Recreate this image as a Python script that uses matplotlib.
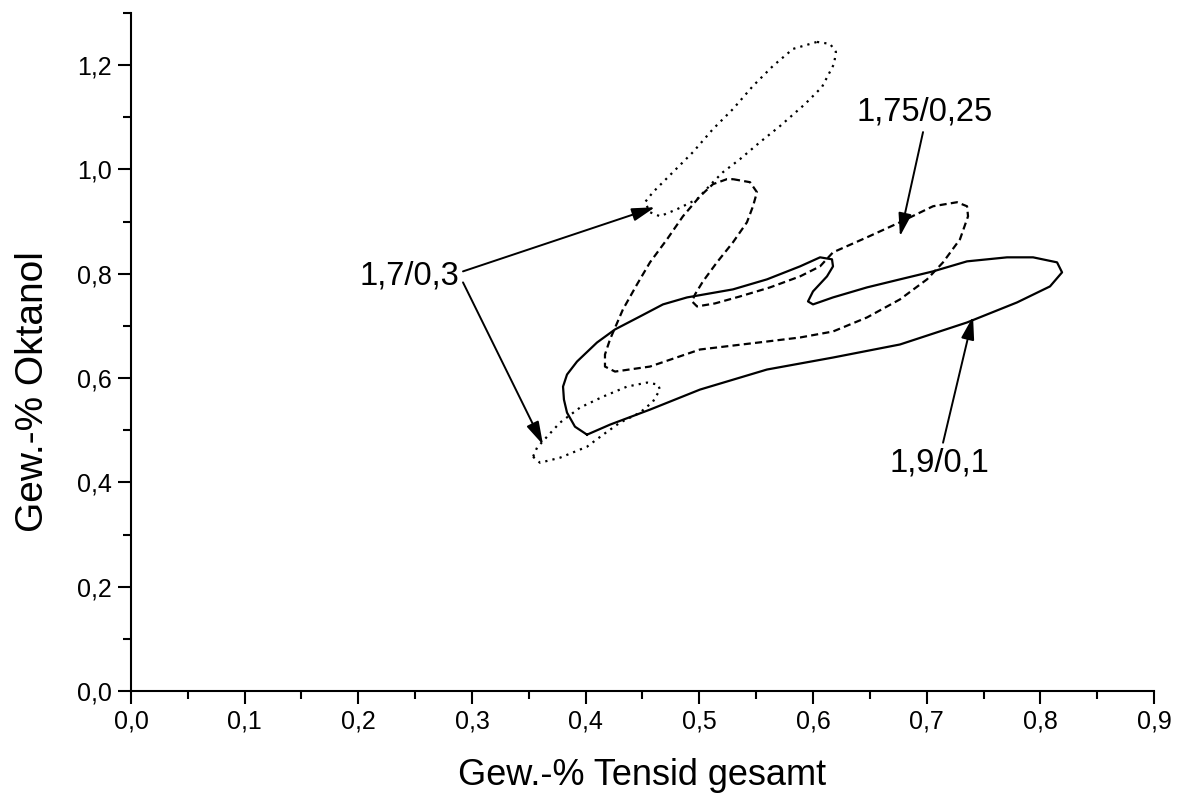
import matplotlib
matplotlib.use("Agg")
import matplotlib.pyplot as plt
from matplotlib.ticker import FuncFormatter, MultipleLocator

plt.rcParams['font.family'] = ['Liberation Sans', 'DejaVu Sans']

# Curve 1,9/0,1 (solid)
solid_x = [0.4012, 0.4214, 0.4566, 0.5006, 0.5595, 0.6176, 0.6765, 0.7355, 0.7795, 0.8085,
           0.8191, 0.8147, 0.7936, 0.7707, 0.7355, 0.7056, 0.6765, 0.6475, 0.6176, 0.6000,
           0.5956, 0.6000, 0.6123, 0.6176, 0.6167, 0.6062, 0.5886, 0.5595, 0.5296, 0.4892,
           0.4680, 0.4478, 0.4258, 0.4100, 0.3924, 0.3836, 0.3801, 0.3809, 0.3836, 0.3906, 0.4012]
solid_y = [0.4916, 0.5108, 0.5396, 0.5780, 0.6164, 0.6394, 0.6644, 0.7066, 0.7450, 0.7757,
           0.8026, 0.8218, 0.8314, 0.8314, 0.8237, 0.8045, 0.7892, 0.7738, 0.7546, 0.7412,
           0.7469, 0.7661, 0.7949, 0.8141, 0.8276, 0.8314, 0.8141, 0.7892, 0.7700, 0.7546,
           0.7412, 0.7181, 0.6932, 0.6682, 0.6317, 0.6068, 0.5837, 0.5588, 0.5338, 0.5069, 0.4916]

# Curve 1,75/0,25 (dashed)
dashed_x = [0.5296, 0.5446, 0.5507, 0.5472, 0.5419, 0.5296, 0.5155, 0.5032, 0.4962, 0.4936,
            0.4980, 0.5138, 0.5358, 0.5622, 0.5886, 0.6062, 0.6176, 0.6475, 0.6765, 0.7056,
            0.7267, 0.7355, 0.7364, 0.7293, 0.7144, 0.7003, 0.6765, 0.6475, 0.6176, 0.5886,
            0.5595, 0.5006, 0.4566, 0.4258, 0.4170, 0.4170, 0.4214, 0.4328, 0.4452, 0.4566,
            0.4716, 0.4856, 0.5006, 0.5120, 0.5243, 0.5296]
dashed_y = [0.9812, 0.9754, 0.9562, 0.9293, 0.8986, 0.8602, 0.8218, 0.7853, 0.7604, 0.7469,
            0.7373, 0.7431, 0.7565, 0.7738, 0.7949, 0.8141, 0.8410, 0.8698, 0.8986, 0.9293,
            0.9370, 0.9293, 0.9101, 0.8660, 0.8218, 0.7892, 0.7508, 0.7162, 0.6893, 0.6778,
            0.6701, 0.6548, 0.6221, 0.6125, 0.6221, 0.6452, 0.6740, 0.7316, 0.7796, 0.8218,
            0.8660, 0.9101, 0.9485, 0.9716, 0.9812, 0.9812]

# Curve 1,7/0,3 (dotted) - upper loop
dot_up_x = [0.6035, 0.6150, 0.6202, 0.6185, 0.6079, 0.5930, 0.5710, 0.5534, 0.5358, 0.5208,
            0.5120, 0.4980, 0.4804, 0.4654, 0.4566, 0.4522, 0.4592, 0.4768, 0.4944, 0.5120,
            0.5296, 0.5472, 0.5648, 0.5824, 0.6035]
dot_up_y = [1.2442, 1.2404, 1.2250, 1.2020, 1.1578, 1.1252, 1.0830, 1.0522, 1.0196, 0.9946,
            0.9754, 0.9428, 0.9236, 0.9101, 0.9178, 0.9370, 0.9562, 0.9946, 1.0330, 1.0772,
            1.1156, 1.1598, 1.1982, 1.2308, 1.2442]
# Curve 1,7/0,3 (dotted) - lower loop
dot_lo_x = [0.3537, 0.3598, 0.3774, 0.4012, 0.4153, 0.4302, 0.4478, 0.4592, 0.4654, 0.4636,
            0.4540, 0.4364, 0.4153, 0.3950, 0.3774, 0.3660, 0.3572, 0.3537]
dot_lo_y = [0.4493, 0.4378, 0.4474, 0.4685, 0.4916, 0.5146, 0.5338, 0.5549, 0.5780, 0.5876,
            0.5914, 0.5837, 0.5645, 0.5434, 0.5146, 0.4877, 0.4666, 0.4493]

# Labels: text, text position, list of (arrow start, arrow tip)
labels = ["1,7/0,3", "1,75/0,25", "1,9/0,1"]
label_pos = [(0.2446, 0.795), (0.6985, 1.1098), (0.7109, 0.4378)]
arrows = [[((0.2921, 0.8045), (0.4610, 0.9274)), ((0.2921, 0.7834), (0.3625, 0.4724))],
          [((0.6968, 1.0714), (0.6765, 0.8717))],
          [((0.7144, 0.4762), (0.7408, 0.7181))]]

xticks = [0.0, 0.1, 0.2, 0.3, 0.4, 0.5, 0.6, 0.7, 0.8, 0.9]
yticks = [0.0, 0.2, 0.4, 0.6, 0.8, 1.0, 1.2]

fig = plt.figure(figsize=(11.83, 8.0), dpi=100)
ax = fig.add_axes([0.1107, 0.136, 0.8648, 0.848])

lw = 1.6
ax.plot(solid_x, solid_y, color='black', lw=lw, solid_joinstyle='round')
ax.plot(dashed_x, dashed_y, color='black', lw=lw, linestyle=(0, (3.2, 1.9)))
ax.plot(dot_up_x, dot_up_y, color='black', lw=lw, linestyle=(0, (1.0, 2.3)))
ax.plot(dot_lo_x, dot_lo_y, color='black', lw=lw, linestyle=(0, (1.0, 2.3)))

for lab, pos, arrs in zip(labels, label_pos, arrows):
    ax.text(pos[0], pos[1], lab, fontsize=23.5, ha='center', va='center')
    for start, tip in arrs:
        ax.annotate('', xy=tip, xytext=start,
                    arrowprops=dict(arrowstyle='-|>,head_length=1.4,head_width=0.4',
                                    color='black', lw=1.4, shrinkA=0, shrinkB=0,
                                    mutation_scale=10))

ax.set_xlim(0, 0.9)
ax.set_ylim(0, 1.3)
ax.set_xticks(xticks)
ax.set_yticks(yticks)
ax.xaxis.set_minor_locator(MultipleLocator(0.05))
ax.yaxis.set_minor_locator(MultipleLocator(0.1))
fmt = FuncFormatter(lambda v, p: f"{v:.1f}".replace('.', ','))
ax.xaxis.set_major_formatter(fmt)
ax.yaxis.set_major_formatter(fmt)

for s in ['top', 'right']:
    ax.spines[s].set_visible(False)
for s in ['left', 'bottom']:
    ax.spines[s].set_linewidth(1.5)

ax.tick_params(which='major', direction='out', length=9.5, width=1.5, labelsize=18, pad=4)
ax.tick_params(which='minor', direction='out', length=5.5, width=1.5)

ax.set_xlabel("Gew.-% Tensid gesamt", fontsize=26)
ax.set_ylabel("Gew.-% Oktanol", fontsize=28)
ax.xaxis.set_label_coords(0.5, -0.098)
ax.yaxis.set_label_coords(-0.078, 0.441)

fig.savefig("out.png", dpi=100)
